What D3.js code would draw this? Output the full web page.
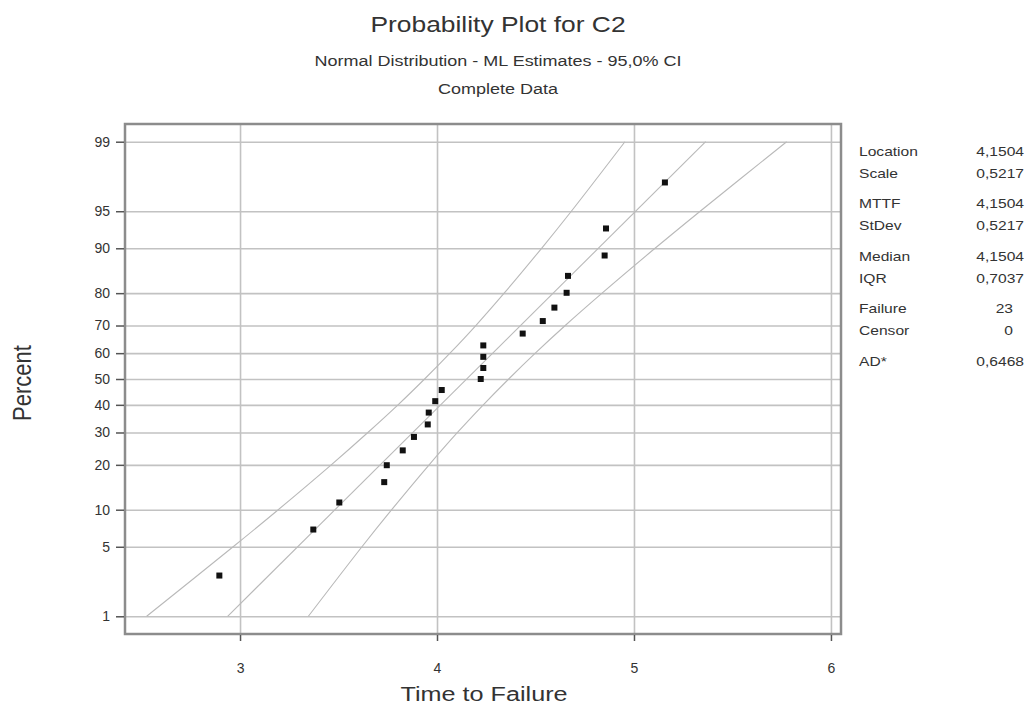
<!DOCTYPE html>
<html>
<head>
<meta charset="utf-8">
<script src="https://cdn.jsdelivr.net/npm/d3@7"></script>
<style>
    body { margin: 0; background: #fff; }
    text { font-family: "Liberation Sans", Arial, sans-serif; fill: #333; }
</style>
</head>
<body>
<div id="chart"></div>
<script>
// failure times, with their plotted percent
var failureTimes = [2.895, 3.372, 3.504, 3.732, 3.745, 3.826, 3.883, 3.953, 3.958, 3.991, 4.024,
    4.222, 4.235, 4.235, 4.235, 4.435, 4.537, 4.596, 4.658, 4.665, 4.851, 4.858, 5.157];
var failurePercents = [2.7, 7.0, 11.3, 15.6, 19.9, 24.2, 28.5, 32.8, 37.1, 41.4, 45.7,
    50.0, 54.3, 58.6, 62.9, 67.2, 71.5, 75.8, 80.1, 84.4, 88.7, 93.0, 97.3];

// fitted line and 95% bands
var fitPercents = [1, 99];
var fitTimes = [2.937, 5.364];
var bandPercents = [1, 5, 10, 20, 30, 40, 50, 60, 70, 80, 90, 95, 99];
var bandLower = [2.526, 2.965, 3.194, 3.463, 3.649, 3.802, 3.937, 4.066, 4.197, 4.341, 4.531, 4.682, 4.954];
var bandUpper = [3.347, 3.619, 3.770, 3.960, 4.104, 4.235, 4.364, 4.499, 4.651, 4.838, 5.107, 5.336, 5.775];

var percentTicks = [1, 5, 10, 20, 30, 40, 50, 60, 70, 80, 90, 95, 99];
var timeTicks = [3, 4, 5, 6];

var statNames = ["Location", "Scale", "MTTF", "StDev", "Median", "IQR", "Failure", "Censor", "AD*"];
var statValues = ["4,1504", "0,5217", "4,1504", "0,5217", "4,1504", "0,7037", "23", "0", "0,6468"];

// inverse normal cdf (Acklam)
function probit(p) {
    var a = [-3.969683028665376e+01, 2.209460984245205e+02, -2.759285104469687e+02, 1.383577518672690e+02, -3.066479806614716e+01, 2.506628277459239e+00];
    var b = [-5.447609879822406e+01, 1.615858368580409e+02, -1.556989798598866e+02, 6.680131188771972e+01, -1.328068155288572e+01];
    var c = [-7.784894002430293e-03, -3.223964580411365e-01, -2.400758277161838e+00, -2.549732539343734e+00, 4.374664141464968e+00, 2.938163982698783e+00];
    var d = [7.784695709041462e-03, 3.224671290700398e-01, 2.445134137142996e+00, 3.754408661907416e+00];
    var pl = 0.02425, q, r;
    if (p < pl) {
        q = Math.sqrt(-2 * Math.log(p));
        return (((((c[0]*q+c[1])*q+c[2])*q+c[3])*q+c[4])*q+c[5]) / ((((d[0]*q+d[1])*q+d[2])*q+d[3])*q+1);
    }
    if (p > 1 - pl) {
        q = Math.sqrt(-2 * Math.log(1 - p));
        return -(((((c[0]*q+c[1])*q+c[2])*q+c[3])*q+c[4])*q+c[5]) / ((((d[0]*q+d[1])*q+d[2])*q+d[3])*q+1);
    }
    q = p - 0.5; r = q * q;
    return (((((a[0]*r+a[1])*r+a[2])*r+a[3])*r+a[4])*r+a[5])*q / (((((b[0]*r+b[1])*r+b[2])*r+b[3])*r+b[4])*r+1);
}

var W = 1029, H = 710;
var box = {left: 125, top: 124, right: 841, bottom: 634};

var svg = d3.select("#chart").append("svg")
    .attr("width", W)
    .attr("height", H);

var x = d3.scaleLinear().domain([2.416, 6.051]).range([box.left, box.right]);
var z = d3.scaleLinear().domain([-2.5, 2.5]).range([box.bottom, box.top]);
function y(pct) { return z(probit(pct / 100)); }

var zTicks = percentTicks.map(function(p) { return probit(p / 100); });

// text is drawn a bit wide, like the original
function wideText(px, py, str, size, anchor) {
    return svg.append("text")
        .attr("transform", "translate(" + px + "," + py + ") scale(1.2,1)")
        .attr("text-anchor", anchor || "middle")
        .style("font-size", size + "px")
        .text(str);
}

// grid
svg.append("g")
    .attr("transform", "translate(" + box.left + ",0)")
    .call(d3.axisLeft(z).tickValues(zTicks).tickSize(-(box.right - box.left)).tickFormat(""))
    .call(function(g) {
        g.select(".domain").remove();
        g.selectAll("line").attr("stroke", "#c2c2c2").attr("stroke-width", 1.6);
    });
svg.append("g")
    .attr("transform", "translate(0," + box.bottom + ")")
    .call(d3.axisBottom(x).tickValues(timeTicks).tickSize(-(box.bottom - box.top)).tickFormat(""))
    .call(function(g) {
        g.select(".domain").remove();
        g.selectAll("line").attr("stroke", "#c2c2c2").attr("stroke-width", 1.6);
    });

// band and fit lines
var line = d3.line()
    .x(function(d) { return x(d[0]); })
    .y(function(d) { return y(d[1]); })
    .curve(d3.curveCatmullRom);

[bandLower, bandUpper].forEach(function(vals) {
    svg.append("path")
        .datum(vals.map(function(v, i) { return [v, bandPercents[i]]; }))
        .attr("d", line)
        .attr("fill", "none")
        .attr("stroke", "#b9b9b9")
        .attr("stroke-width", 1.1);
});
svg.append("path")
    .datum(fitTimes.map(function(v, i) { return [v, fitPercents[i]]; }))
    .attr("d", line)
    .attr("fill", "none")
    .attr("stroke", "#b9b9b9")
    .attr("stroke-width", 1.1);

// frame
svg.append("rect")
    .attr("x", box.left)
    .attr("y", box.top)
    .attr("width", box.right - box.left)
    .attr("height", box.bottom - box.top)
    .attr("fill", "none")
    .attr("stroke", "#8c8c8c")
    .attr("stroke-width", 2.5);

// axes
svg.append("g")
    .attr("transform", "translate(" + (box.left - 1) + ",0)")
    .call(d3.axisLeft(z).tickValues(zTicks).tickSize(8).tickPadding(6)
        .tickFormat(function(d, i) { return percentTicks[i]; }))
    .call(function(g) {
        g.select(".domain").remove();
        g.selectAll("line").attr("stroke", "#555").attr("stroke-width", 1.5);
        g.selectAll("text").style("font-size", "14px").style("font-family", "Liberation Sans").attr("fill", "#333");
    });
svg.append("g")
    .attr("transform", "translate(0," + (box.bottom + 1) + ")")
    .call(d3.axisBottom(x).tickValues(timeTicks).tickSize(6).tickPadding(22).tickFormat(d3.format("d")))
    .call(function(g) {
        g.select(".domain").remove();
        g.selectAll("line").attr("stroke", "#555").attr("stroke-width", 1.5);
        g.selectAll("text").style("font-size", "14px").style("font-family", "Liberation Sans").attr("fill", "#333");
    });

// points
svg.append("g")
    .selectAll("rect")
    .data(failureTimes)
    .enter().append("rect")
    .attr("x", function(d) { return x(d) - 3; })
    .attr("y", function(d, i) { return y(failurePercents[i]) - 3; })
    .attr("width", 6)
    .attr("height", 6)
    .attr("fill", "#111");

// titles
wideText(498, 32, "Probability Plot for C2", 22);
wideText(498, 66, "Normal Distribution - ML Estimates - 95,0% CI", 15);
wideText(498, 94, "Complete Data", 15);
wideText(484, 701, "Time to Failure", 21);
svg.append("text")
    .attr("transform", "translate(31,383) scale(1.2,1) rotate(-90)")
    .attr("text-anchor", "middle")
    .style("font-size", "22px")
    .text("Percent");

// stats table
statNames.forEach(function(name, i) {
    var ty = 156 + i * 21.7 + Math.floor(i / 2) * 9;
    var val = statValues[i];
    wideText(859, ty, name, 13, "start");
    wideText(val.indexOf(",") < 0 ? 1013 : 1024, ty, val, 13, "end");
});
</script>
</body>
</html>
